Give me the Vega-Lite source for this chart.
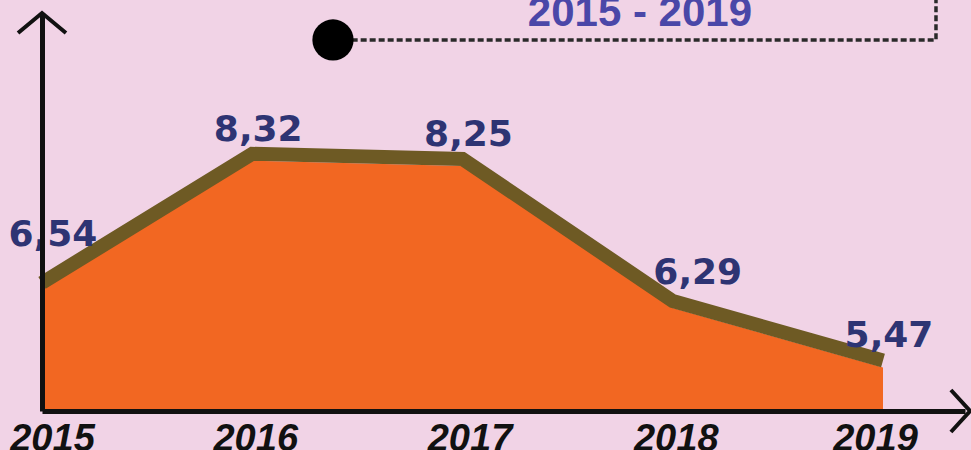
{
  "$schema": "https://vega.github.io/schema/vega-lite/v6.json",
  "width": 923,
  "height": 398,
  "autosize": {"type": "none"},
  "padding": {"left": 42, "top": 13, "right": 6, "bottom": 39},
  "background": "#F1D3E6",
  "config": {"view": {"stroke": null}},
  "datasets": {
    "series": [
      {"year": 2015, "value": 6.54, "label": "6,54"},
      {"year": 2016, "value": 8.32, "label": "8,32"},
      {"year": 2017, "value": 8.25, "label": "8,25"},
      {"year": 2018, "value": 6.29, "label": "6,29"},
      {"year": 2019, "value": 5.47, "label": "5,47"}
    ],
    "dot": [{"x": 2016.384, "y": 9.987}],
    "dash": [
      {"x": 2016.43, "y": 9.987, "o": 0},
      {"x": 2019.252, "y": 9.987, "o": 1},
      {"x": 2019.252, "y": 10.54, "o": 2}
    ],
    "arrowY": [
      {"x": 2014.886, "y": 10.083, "o": 0},
      {"x": 2015.0, "y": 10.359, "o": 1},
      {"x": 2015.114, "y": 10.083, "o": 2}
    ],
    "arrowX": [
      {"x": 2019.323, "y": 5.159, "o": 0},
      {"x": 2019.414, "y": 4.869, "o": 1},
      {"x": 2019.323, "y": 4.579, "o": 2}
    ],
    "heading": [{"x": 2017.844, "y": 10.18, "text": "2015 - 2019"}]
  },
  "layer": [
    {
      "data": {"name": "series"},
      "mark": {"type": "area", "color": "#F26722", "opacity": 1},
      "encoding": {
        "x": {
          "field": "year", "type": "quantitative",
          "scale": {"domain": [2015, 2019.39], "nice": false, "zero": false},
          "axis": {
            "title": null, "values": [2015, 2016, 2017, 2018, 2019], "format": "d",
            "grid": false, "ticks": false, "domain": true, "domainColor": "#111111", "domainWidth": 5,
            "labelFont": "Liberation Sans", "labelFontWeight": "bold", "labelFontStyle": "italic",
            "labelFontSize": 38, "labelColor": "#111111", "labelPadding": 9,
            "labelOffset": {
              "condition": [
                {"test": "datum.value == 2015", "value": 10},
                {"test": "datum.value == 2017", "value": 7},
                {"test": "datum.value == 2019", "value": -8}
              ],
              "value": 3
            },
            "labelFlush": false, "labelOverlap": false, "labelBound": false, "zindex": 1
          }
        },
        "y": {
          "field": "value", "type": "quantitative",
          "scale": {"domain": [4.869, 10.359], "nice": false, "zero": false},
          "axis": {
            "title": null, "grid": false, "ticks": false, "labels": false,
            "domain": true, "domainColor": "#111111", "domainWidth": 5, "zindex": 1
          }
        },
        "y2": {"datum": 4.869}
      }
    },
    {
      "data": {"name": "series"},
      "mark": {"type": "line", "color": "#6E5A24", "strokeWidth": 14, "yOffset": -7, "strokeJoin": "miter", "strokeCap": "butt"},
      "encoding": {
        "x": {"field": "year", "type": "quantitative"},
        "y": {"field": "value", "type": "quantitative"}
      }
    },
    {
      "data": {"name": "series"},
      "transform": [{"filter": "datum.year != 2015 && datum.year != 2018"}],
      "mark": {"type": "text", "font": "DejaVu Sans", "fontWeight": "bold", "fontSize": 36, "color": "#2E3473", "align": "center", "baseline": "alphabetic", "dx": 6, "dy": -20},
      "encoding": {
        "x": {"field": "year", "type": "quantitative"},
        "y": {"field": "value", "type": "quantitative"},
        "text": {"field": "label"}
      }
    },
    {
      "data": {"name": "series"},
      "transform": [{"filter": "datum.year == 2015"}],
      "mark": {"type": "text", "font": "DejaVu Sans", "fontWeight": "bold", "fontSize": 36, "color": "#2E3473", "align": "center", "baseline": "alphabetic", "dx": 11, "dy": -44},
      "encoding": {
        "x": {"field": "year", "type": "quantitative"},
        "y": {"field": "value", "type": "quantitative"},
        "text": {"field": "label"}
      }
    },
    {
      "data": {"name": "series"},
      "transform": [{"filter": "datum.year == 2018"}],
      "mark": {"type": "text", "font": "DejaVu Sans", "fontWeight": "bold", "fontSize": 36, "color": "#2E3473", "align": "center", "baseline": "alphabetic", "dx": 25, "dy": -24},
      "encoding": {
        "x": {"field": "year", "type": "quantitative"},
        "y": {"field": "value", "type": "quantitative"},
        "text": {"field": "label"}
      }
    },
    {
      "data": {"name": "dash"},
      "mark": {"type": "line", "color": "#2A2A2A", "strokeWidth": 3.5, "strokeDash": [6, 3], "strokeJoin": "miter"},
      "encoding": {
        "x": {"field": "x", "type": "quantitative"},
        "y": {"field": "y", "type": "quantitative"},
        "order": {"field": "o"}
      }
    },
    {
      "data": {"name": "dot"},
      "mark": {"type": "circle", "color": "#000000", "opacity": 1, "size": 1700},
      "encoding": {
        "x": {"field": "x", "type": "quantitative"},
        "y": {"field": "y", "type": "quantitative"}
      }
    },
    {
      "data": {"name": "arrowY"},
      "mark": {"type": "line", "color": "#111111", "strokeWidth": 4, "strokeJoin": "miter"},
      "encoding": {
        "x": {"field": "x", "type": "quantitative"},
        "y": {"field": "y", "type": "quantitative"},
        "order": {"field": "o"}
      }
    },
    {
      "data": {"name": "arrowX"},
      "mark": {"type": "line", "color": "#111111", "strokeWidth": 4, "strokeJoin": "miter"},
      "encoding": {
        "x": {"field": "x", "type": "quantitative"},
        "y": {"field": "y", "type": "quantitative"},
        "order": {"field": "o"}
      }
    },
    {
      "data": {"name": "heading"},
      "mark": {"type": "text", "font": "Liberation Sans", "fontWeight": "bold", "fontSize": 42, "color": "#4A47A8", "align": "center", "baseline": "alphabetic"},
      "encoding": {
        "x": {"field": "x", "type": "quantitative"},
        "y": {"field": "y", "type": "quantitative"},
        "text": {"field": "text"}
      }
    }
  ]
}
